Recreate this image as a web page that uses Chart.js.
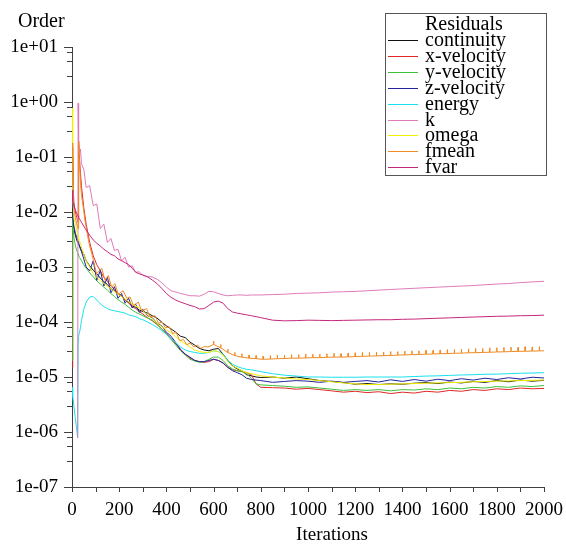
<!DOCTYPE html>
<html><head><meta charset="utf-8">
<script src="https://cdn.jsdelivr.net/npm/chart.js@4.4.1/dist/chart.umd.min.js"></script>
<style>html,body{margin:0;padding:0;background:#fff;}canvas{display:block;}</style>
</head><body>
<canvas id="c" width="566" height="545"></canvas>
<script>
// ---------------- data ----------------
const seriesLabels = ['continuity','x-velocity','y-velocity','z-velocity','energy','k','omega','fmean','fvar'];
const yTickValues = [1e-7,1e-6,1e-5,1e-4,1e-3,1e-2,1e-1,1,10];
const xTickStep = 200;

const iterations = [1,2,4,8,14,20,24,26,28,32,36,40,50,60,75,90,105,120,135,150,165,180,195,210,225,240,255,270,285,300,320,340,360,380,400,420,440,460,480,500,520,540,560,580,600,620,640,660,680,700,720,740,760,780,800,850,900,950,1000,1050,1100,1150,1200,1250,1300,1350,1400,1450,1500,1550,1600,1650,1700,1750,1800,1850,1900,1950,2000];

const continuity = [0.1,0.04,0.0075,0.005,0.0038,0.0031,0.0028,0.0027,0.0026,0.0024,0.0022,0.002,
 0.0017,0.0013,1.05e-3,8.7e-4,7.5e-4,6.3e-4,5.4e-4,4.8e-4,4.0e-4,3.7e-4,3.2e-4,3.0e-4,2.6e-4,2.3e-4,1.95e-4,1.85e-4,1.65e-4,1.55e-4,
 1.45e-4,1.3e-4,1.18e-4,1.0e-4,8.5e-5,7.5e-5,6.5e-5,5.5e-5,5.2e-5,4.3e-5,3.8e-5,3.3e-5,3.1e-5,3.0e-5,3.2e-5,3.3e-5,2.6e-5,2.0e-5,1.6e-5,1.4e-5,1.3e-5,1.1e-5,1.05e-5,1.0e-5,9.8e-6,
 1.0e-5,9.5e-6,1.0e-5,9.3e-6,8.6e-6,8.3e-6,7.9e-6,7.4e-6,7.6e-6,7.3e-6,7.5e-6,7.4e-6,7.7e-6,7.9e-6,7.6e-6,8.1e-6,7.8e-6,8.3e-6,8.0e-6,8.6e-6,8.2e-6,8.8e-6,8.4e-6,8.7e-6];

const xVelocity = [1.5e-5,0.15,0.04,0.015,0.01,0.008,0.007,0.0065,0.2,0.09,0.05,0.03,
 0.012,0.006,0.0028,1.6e-3,1.1e-3,8.5e-4,6.5e-4,5.5e-4,4.5e-4,3.9e-4,3.3e-4,2.9e-4,2.5e-4,2.2e-4,1.9e-4,1.75e-4,1.55e-4,1.4e-4,
 1.2e-4,1.05e-4,9.0e-5,7.5e-5,6.2e-5,5.0e-5,4.0e-5,3.2e-5,2.6e-5,2.2e-5,2.0e-5,1.9e-5,1.85e-5,1.9e-5,2.1e-5,2.0e-5,1.8e-5,1.5e-5,1.35e-5,1.3e-5,1.25e-5,1.2e-5,1.1e-5,7.5e-6,6.5e-6,
 6.4e-6,6.3e-6,6.0e-6,6.2e-6,5.9e-6,5.6e-6,5.3e-6,5.5e-6,5.2e-6,5.4e-6,5.0e-6,5.3e-6,5.1e-6,5.5e-6,5.3e-6,5.7e-6,5.5e-6,5.9e-6,5.7e-6,6.1e-6,5.9e-6,6.3e-6,6.1e-6,6.2e-6];

const yVelocity = [2.0e-5,0.055,0.006,0.0035,0.0025,0.002,0.0018,0.0017,0.0016,0.0015,0.0014,0.0013,
 1.1e-3,9.5e-4,7.8e-4,6.6e-4,5.6e-4,4.9e-4,4.3e-4,3.8e-4,3.3e-4,2.9e-4,2.55e-4,2.3e-4,2.1e-4,1.85e-4,1.65e-4,1.5e-4,1.4e-4,1.3e-4,
 1.18e-4,1.08e-4,9.2e-5,7.5e-5,6.0e-5,4.8e-5,3.8e-5,3.0e-5,2.5e-5,2.1e-5,1.95e-5,1.85e-5,1.9e-5,2.1e-5,2.3e-5,2.3e-5,2.0e-5,1.6e-5,1.4e-5,1.3e-5,1.25e-5,1.15e-5,9.5e-6,7.5e-6,7.2e-6,
 7.0e-6,6.8e-6,6.5e-6,6.6e-6,6.3e-6,6.0e-6,5.7e-6,5.9e-6,5.7e-6,5.9e-6,5.6e-6,5.9e-6,5.8e-6,6.1e-6,5.9e-6,6.3e-6,6.1e-6,6.5e-6,6.3e-6,6.7e-6,6.5e-6,6.9e-6,6.7e-6,7.0e-6];

const zVelocity = [0.065,0.03,0.008,0.0055,0.0042,0.0034,0.003,0.0029,0.0027,0.0024,0.0021,0.0019,
 0.0014,1.0e-3,8.5e-4,1.3e-3,5.7e-4,8.7e-4,4.5e-4,6.5e-4,3.4e-4,4.4e-4,2.7e-4,3.3e-4,2.2e-4,2.7e-4,1.8e-4,2.1e-4,1.5e-4,1.7e-4,
 1.3e-4,1.2e-4,9.5e-5,8.5e-5,6.5e-5,5.5e-5,4.2e-5,3.1e-5,2.6e-5,2.3e-5,2.0e-5,1.9e-5,1.9e-5,2.0e-5,2.1e-5,2.0e-5,1.8e-5,1.5e-5,1.3e-5,1.2e-5,1.1e-5,9.5e-6,9.0e-6,8.8e-6,8.6e-6,
 8.0e-6,8.3e-6,8.6e-6,8.4e-6,8.0e-6,8.4e-6,8.0e-6,8.3e-6,8.6e-6,8.1e-6,8.9e-6,8.3e-6,9.0e-6,8.4e-6,9.1e-6,8.6e-6,9.3e-6,8.8e-6,9.5e-6,9.0e-6,9.7e-6,9.2e-6,9.9e-6,9.6e-6];

const energy = [6.5e-6,6.0e-6,4.5e-6,3.0e-6,1.8e-6,1.1e-6,7.8e-7,4.5e-5,5.5e-5,6.5e-5,8.0e-5,1.05e-4,
 1.7e-4,2.3e-4,2.85e-4,2.9e-4,2.5e-4,2.15e-4,1.9e-4,1.75e-4,1.65e-4,1.6e-4,1.55e-4,1.5e-4,1.45e-4,1.35e-4,1.3e-4,1.25e-4,1.15e-4,1.1e-4,
 1.0e-4,9.0e-5,8.0e-5,7.0e-5,6.0e-5,5.0e-5,4.2e-5,3.5e-5,3.1e-5,2.9e-5,2.8e-5,2.7e-5,2.7e-5,2.8e-5,3.0e-5,2.9e-5,2.6e-5,2.0e-5,1.7e-5,1.55e-5,1.45e-5,1.38e-5,1.35e-5,1.3e-5,1.25e-5,
 1.15e-5,1.08e-5,1.04e-5,1.0e-5,1.0e-5,9.9e-6,9.9e-6,9.9e-6,1.0e-5,1.0e-5,1.0e-5,1.0e-5,1.02e-5,1.04e-5,1.05e-5,1.07e-5,1.09e-5,1.1e-5,1.12e-5,1.13e-5,1.15e-5,1.17e-5,1.18e-5,1.2e-5];

const kResidual = [null,null,null,null,null,null,7.8e-7,0.95,0.2,0.11,0.14,0.075,
 0.06,0.028,0.03,0.013,0.014,0.005,0.006,0.0028,0.0033,0.002,0.0021,0.0013,0.0015,1.0e-3,1.05e-3,8.0e-4,8.2e-4,7.0e-4,
 6.7e-4,6.6e-4,6.0e-4,5.2e-4,4.3e-4,3.7e-4,3.5e-4,3.3e-4,3.15e-4,3.0e-4,3.0e-4,2.95e-4,3.2e-4,3.6e-4,3.55e-4,3.3e-4,3.1e-4,3.0e-4,3.05e-4,3.1e-4,3.1e-4,3.05e-4,3.1e-4,3.1e-4,3.1e-4,
 3.15e-4,3.2e-4,3.3e-4,3.35e-4,3.4e-4,3.5e-4,3.55e-4,3.6e-4,3.7e-4,3.8e-4,3.9e-4,4.0e-4,4.1e-4,4.2e-4,4.3e-4,4.4e-4,4.5e-4,4.6e-4,4.75e-4,4.9e-4,5.0e-4,5.2e-4,5.35e-4,5.5e-4];

const omega = [0.77,0.2,0.02,0.008,0.0062,0.0047,0.004,0.0037,0.0034,0.003,0.0027,0.0023,
 0.0017,0.0013,1.0e-3,7.5e-4,6.5e-4,5.7e-4,5.0e-4,4.5e-4,4.0e-4,3.6e-4,3.2e-4,2.9e-4,2.6e-4,2.35e-4,2.1e-4,1.95e-4,1.8e-4,1.6e-4,
 1.35e-4,1.15e-4,9.5e-5,8.2e-5,7.2e-5,6.3e-5,5.4e-5,4.5e-5,4.0e-5,3.5e-5,3.1e-5,2.9e-5,2.8e-5,2.8e-5,3.0e-5,2.9e-5,2.5e-5,1.9e-5,1.6e-5,1.45e-5,1.3e-5,1.2e-5,1.15e-5,1.1e-5,1.05e-5,
 1.0e-5,9.6e-6,9.2e-6,9.0e-6,8.6e-6,8.2e-6,7.8e-6,7.5e-6,7.3e-6,7.3e-6,7.4e-6,7.5e-6,7.6e-6,7.7e-6,7.8e-6,7.9e-6,8.0e-6,8.2e-6,8.3e-6,8.4e-6,8.5e-6,8.6e-6,8.7e-6,8.8e-6];

const fvar = [0.025,0.02,0.016,0.013,0.011,0.0095,0.0088,0.0085,0.008,0.0075,0.007,0.0065,
 0.0055,0.0047,0.0038,0.0031,0.0027,0.0024,0.0021,0.0019,0.0017,0.0016,0.0014,0.0013,0.0012,1.1e-3,9.5e-4,8.0e-4,7.5e-4,7.2e-4,
 6.6e-4,5.8e-4,5.0e-4,4.1e-4,3.3e-4,2.8e-4,2.5e-4,2.3e-4,2.15e-4,2.0e-4,1.9e-4,1.72e-4,1.75e-4,2.0e-4,2.3e-4,2.4e-4,2.2e-4,1.75e-4,1.52e-4,1.45e-4,1.4e-4,1.35e-4,1.3e-4,1.25e-4,1.2e-4,
 1.08e-4,1.05e-4,1.06e-4,1.08e-4,1.07e-4,1.06e-4,1.07e-4,1.08e-4,1.09e-4,1.1e-4,1.1e-4,1.12e-4,1.13e-4,1.15e-4,1.17e-4,1.19e-4,1.21e-4,1.23e-4,1.25e-4,1.27e-4,1.28e-4,1.3e-4,1.31e-4,1.33e-4];

// fmean: own (denser) sampling, early zig-zag part
const fmeanIterations = [1,2,4,8,14,20,24,26,28,32,36,40,48,55,62,70,76,83,90,104,126,140,154,168,182,196,217,232,246,260,281,295,316,331,352,366,382,396,412,426,442,456,472,486,502,516,532,546,562,576];
const fmeanValues = [0.18,0.1,0.03,0.012,0.008,0.006,0.0052,0.005,0.19,0.07,0.035,0.02,0.012,0.007,0.0047,0.003,0.0023,0.0018,1.36e-3,
 7.5e-4,9.5e-4,5.7e-4,7.0e-4,4.3e-4,5.0e-4,3.2e-4,3.7e-4,2.7e-4,2.85e-4,2.0e-4,2.3e-4,1.6e-4,1.75e-4,1.23e-4,1.3e-4,9.5e-5,1.0e-4,7.8e-5,8.2e-5,6.2e-5,6.4e-5,4.6e-5,4.8e-5,3.9e-5,4.1e-5,3.5e-5,3.8e-5,3.3e-5,3.6e-5,3.5e-5];
// fmean: periodic spikes (iteration, baseline, spike top)
const fmeanSpikeIter = [600,630,660,690,720,750,780,810,840,870,900,930,960,990,1020,1050,1080,1110,1140,1170,1200,1230,1260,1290,1320,1350,1380,1410,1440,1470,1500,1530,1560,1590,1620,1650,1680,1710,1740,1770,1800,1830,1860,1890,1920,1950,1980];
const fmeanBase = [3.9e-5,3.4e-5,2.8e-5,2.45e-5,2.3e-5,2.2e-5,2.15e-5,2.1e-5,2.12e-5,2.15e-5,2.17e-5,2.2e-5,2.2e-5,2.22e-5,2.25e-5,2.25e-5,2.28e-5,2.3e-5,2.3e-5,2.32e-5,2.35e-5,2.38e-5,2.4e-5,2.42e-5,2.45e-5,2.47e-5,2.5e-5,2.52e-5,2.55e-5,2.57e-5,2.6e-5,2.62e-5,2.65e-5,2.67e-5,2.7e-5,2.72e-5,2.75e-5,2.77e-5,2.8e-5,2.82e-5,2.85e-5,2.87e-5,2.9e-5,2.92e-5,2.94e-5,2.96e-5,2.98e-5];
const fmeanPeak = [4.5e-5,3.9e-5,3.2e-5,2.8e-5,2.65e-5,2.5e-5,2.45e-5,2.4e-5,2.45e-5,2.5e-5,2.5e-5,2.55e-5,2.55e-5,2.6e-5,2.6e-5,2.6e-5,2.65e-5,2.7e-5,2.65e-5,2.7e-5,2.75e-5,2.8e-5,2.8e-5,2.85e-5,2.85e-5,2.9e-5,2.9e-5,2.95e-5,3.0e-5,3.0e-5,3.05e-5,3.05e-5,3.1e-5,3.15e-5,3.15e-5,3.2e-5,3.25e-5,3.3e-5,3.3e-5,3.4e-5,3.4e-5,3.45e-5,3.5e-5,3.45e-5,3.55e-5,3.5e-5,3.55e-5];
const fmeanTailIter = [2000];
const fmeanTail = [3.0e-5];

// ---------------- chart ----------------
const FONT = "'Liberation Serif','Times New Roman',serif";
const colors = ['#111111','#e02828','#3cc03c','#24249c','#18e0ec','#e07ab8','#f2f000','#f08a24','#c4287c'];
const AXIS = '#404040';

function pts(vals){ return vals.map((v,i)=>({x: iterations[i], y: v})); }
const fmeanPts = fmeanIterations.map((x,i)=>({x:x, y:fmeanValues[i]}));
fmeanSpikeIter.forEach((s,i)=>{
  fmeanPts.push({x:s-1,y:fmeanBase[i]},{x:s,y:fmeanPeak[i]},{x:s+1,y:fmeanBase[i]});
});
fmeanTailIter.forEach((x,i)=>fmeanPts.push({x:x,y:fmeanTail[i]}));

const seriesData = [pts(continuity),pts(xVelocity),pts(yVelocity),pts(zVelocity),pts(energy),pts(kResidual),pts(omega),fmeanPts,pts(fvar)];

const datasets = seriesLabels.map((lab,i)=>({
  label: lab, data: seriesData[i], borderColor: colors[i], backgroundColor: colors[i],
  borderWidth: 1, pointRadius: 0, tension: 0, fill: false, spanGaps: false, order: -i
}));

function expLabel(v){
  const e = Math.round(Math.log10(v));
  return '1e' + (e < 0 ? '-' : '+') + String(Math.abs(e)).padStart(2,'0');
}

const decor = {
  id: 'decor',
  afterDraw(chart){
    const ctx = chart.ctx, xs = chart.scales.x, ys = chart.scales.y, ca = chart.chartArea;
    ctx.save();
    ctx.strokeStyle = AXIS; ctx.lineWidth = 1;
    ctx.beginPath();
    for (let n = -7; n <= 1; n++) {
      const y = Math.round(ys.getPixelForValue(Math.pow(10,n))) + 0.5;
      ctx.moveTo(ca.left - 8, y); ctx.lineTo(ca.left, y);
      if (n < 1) {
        [3,5.5,8].forEach(m=>{
          const ym = Math.round(ys.getPixelForValue(m*Math.pow(10,n))) + 0.5;
          ctx.moveTo(ca.left - 5, ym); ctx.lineTo(ca.left, ym);
        });
      }
    }
    for (let it = 0; it <= 2000; it += 100) {
      const x = Math.round(xs.getPixelForValue(it)) + 0.5;
      ctx.moveTo(x, ca.bottom); ctx.lineTo(x, ca.bottom + 5);
    }
    ctx.stroke();

    ctx.fillStyle = '#000';
    ctx.textBaseline = 'alphabetic';
    ctx.font = "20px " + FONT;
    ctx.textAlign = 'left';
    ctx.fillText('Order', 18, 27);
    ctx.font = "19px " + FONT;
    ctx.textAlign = 'center';
    ctx.fillText('Iterations', 332, 540);

    const bx = 385.5, by = 13.5, bw = 161, bh = 162;
    ctx.fillStyle = '#fff'; ctx.fillRect(bx, by, bw, bh);
    ctx.strokeStyle = '#555'; ctx.strokeRect(bx, by, bw, bh);
    ctx.fillStyle = '#000';
    ctx.font = "20px " + FONT;
    ctx.textAlign = 'left';
    ctx.fillText('Residuals', 425, 30);
    chart.data.datasets.forEach((ds,i)=>{
      const ly = Math.round(40 + 15.9*i) + 0.5;
      ctx.strokeStyle = ds.borderColor; ctx.lineWidth = 1;
      ctx.beginPath(); ctx.moveTo(388, ly); ctx.lineTo(418, ly); ctx.stroke();
      ctx.fillStyle = '#000';
      ctx.fillText(ds.label, 425, ly + 5.5);
    });
    ctx.restore();
  }
};

new Chart(document.getElementById('c').getContext('2d'), {
  type: 'line',
  data: { datasets: datasets },
  options: {
    responsive: false, animation: false, devicePixelRatio: 1, events: [],
    layout: { padding: { top: 47, right: 22, left: 0, bottom: 0 } },
    plugins: { legend: { display: false }, tooltip: { enabled: false }, title: { display: false } },
    scales: {
      x: {
        type: 'linear', min: 0, max: 2000,
        grid: { display: false, drawTicks: false },
        border: { display: true, color: AXIS, width: 1 },
        ticks: { stepSize: xTickStep, autoSkip: false, maxRotation: 0, padding: 12, color: '#000',
                 font: { family: FONT, size: 19 }, callback: v => String(v) },
        afterFit(s){ s.height = 58; s.paddingLeft = 0; s.paddingRight = 0; }
      },
      y: {
        type: 'logarithmic', min: 1e-7, max: 10,
        grid: { display: false, drawTicks: false },
        border: { display: true, color: AXIS, width: 1 },
        afterBuildTicks(s){ s.ticks = yTickValues.map(v => ({ value: v })); },
        ticks: { autoSkip: false, padding: 14, color: '#000', font: { family: FONT, size: 19 }, callback: v => expLabel(v) },
        afterFit(s){ s.width = 72; s.paddingTop = 0; s.paddingBottom = 0; }
      }
    }
  },
  plugins: [decor]
});
</script>
</body></html>
